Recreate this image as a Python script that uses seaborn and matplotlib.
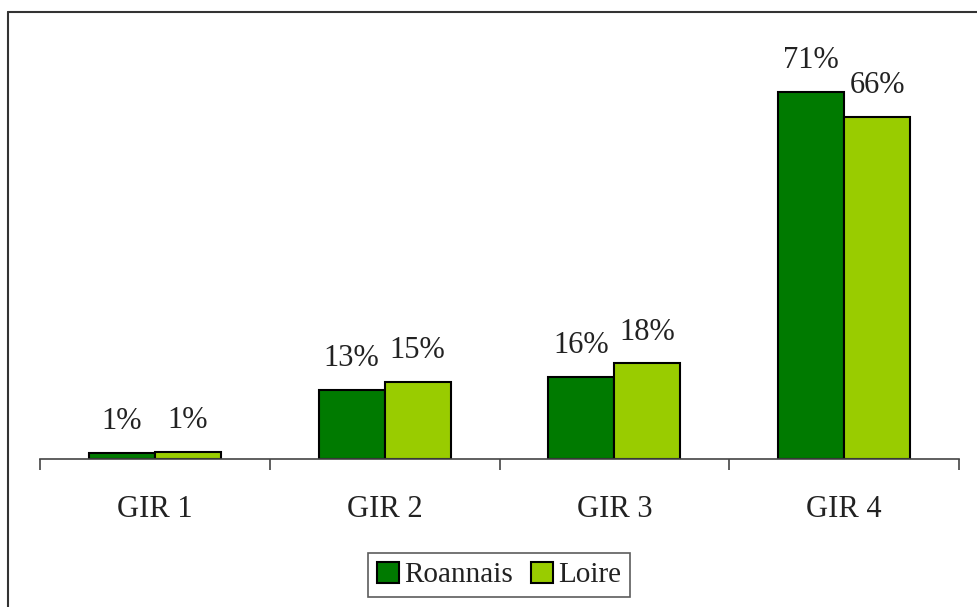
import pandas as pd
import matplotlib.pyplot as plt
import seaborn as sns
from matplotlib.lines import Line2D

# data (percent)
categories = ["GIR 1", "GIR 2", "GIR 3", "GIR 4"]
roannais = [1.2, 13.3, 15.8, 70.6]
loire = [1.4, 14.8, 18.4, 65.8]
series = ["Roannais", "Loire"]
colors = ["#007A00", "#99CC00"]

df = pd.DataFrame({
    "gir": categories * 2,
    "pct": roannais + loire,
    "zone": [series[0]] * 4 + [series[1]] * 4,
})

sns.set_style("white")
plt.rcParams["font.family"] = ["Liberation Serif", "DejaVu Serif"]

fig = plt.figure(figsize=(9.78, 6.07), dpi=100)
ax = fig.add_axes([40 / 978, 1 - 459 / 607, 919 / 978, 419 / 607])

sns.barplot(data=df, x="gir", y="pct", hue="zone", palette=colors, saturation=1,
            width=0.574, edgecolor="black", linewidth=1.5, ax=ax, legend=False)

for cont in ax.containers:
    ax.bar_label(cont, fmt="%.0f%%", padding=12, fontsize=22, color="#222222")

ax.set_ylim(0, 80.6)
ax.set_xlim(-0.5, 3.5)
for s in ["top", "right", "left"]:
    ax.spines[s].set_visible(False)
ax.spines["bottom"].set_color("#444444")
ax.spines["bottom"].set_linewidth(1.2)
ax.set_yticks([])
ax.set_xlabel("")
ax.set_ylabel("")

# ticks between categories, labels centred under each group
ax.set_xticks([-0.5, 0.5, 1.5, 2.5, 3.5])
ax.set_xticklabels([])
ax.set_xticks(range(len(categories)), minor=True)
ax.set_xticklabels(categories, minor=True, fontsize=22, color="#222222")
ax.tick_params(axis="x", which="major", direction="out", length=8, width=1.2,
               color="#444444", bottom=True)
ax.tick_params(axis="x", which="minor", length=0, pad=26)

handles = [plt.Rectangle((0, 0), 1, 1, facecolor=c, edgecolor="black", linewidth=1.5)
           for c in colors]
leg = fig.legend(handles, series, loc="center", bbox_to_anchor=(499 / 978, 1 - 575 / 607),
                 ncol=2, fontsize=21, frameon=True, fancybox=False, handlelength=0.75,
                 handleheight=0.75, handletextpad=0.2, columnspacing=0.6,
                 borderpad=0.3, borderaxespad=0)
leg.get_frame().set_edgecolor("#333333")
leg.get_frame().set_linewidth(1.2)
for t in leg.get_texts():
    t.set_color("#222222")

# outer chart frame (only top and left edges are visible in the picture)
fig.add_artist(Line2D([8 / 978, 8 / 978], [0, 1 - 12 / 607], color="#333333", lw=1.5))
fig.add_artist(Line2D([8 / 978, 1], [1 - 12 / 607, 1 - 12 / 607], color="#333333", lw=1.5))

fig.savefig("out.png", dpi=100)
